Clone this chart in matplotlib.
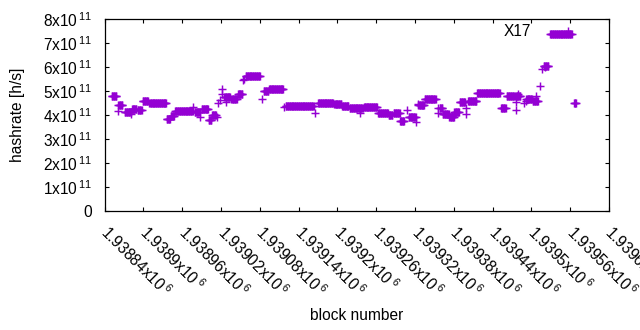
import numpy as np
import matplotlib
matplotlib.use('Agg')
import matplotlib.pyplot as plt
from matplotlib.transforms import ScaledTranslation

plt.rcParams['font.family'] = ['Liberation Sans', 'DejaVu Sans']
plt.rcParams['mathtext.fontset'] = 'custom'
plt.rcParams['mathtext.rm'] = 'Liberation Sans'
plt.rcParams['mathtext.it'] = 'Liberation Sans:italic'
plt.rcParams['mathtext.bf'] = 'Liberation Sans:bold'

# ---- data (block offsets relative to first_block, hashrate in units of 1e11 h/s)
first_block = 1938840
run_start = [11, 21, 31, 42, 51, 59, 69, 96, 102, 109, 139, 150, 161, 166, 185, 196,
             206, 218, 246, 254, 280, 330, 355, 367, 379, 401, 423, 439, 447, 457,
             470, 485, 495, 518, 523, 533, 541, 549, 562, 576, 613, 622, 635, 652,
             662, 679, 689, 726]
run_end = [18, 27, 40, 49, 57, 67, 95, 101, 107, 136, 147, 160, 165, 172, 194, 204,
           213, 240, 253, 276, 323, 353, 366, 377, 399, 421, 438, 445, 456, 463,
           481, 494, 512, 522, 532, 540, 548, 557, 575, 611, 620, 633, 643, 661,
           670, 686, 722, 729]
run_value = [4.82, 4.42, 4.12, 4.25, 4.20, 4.58, 4.49, 3.86, 3.96, 4.19, 4.12, 4.26,
             3.79, 4.01, 4.76, 4.68, 4.89, 5.62, 5.00, 5.11, 4.40, 4.49, 4.45, 4.39,
             4.31, 4.33, 4.11, 4.00, 4.11, 3.75, 3.93, 4.42, 4.69, 4.29, 4.03, 3.93,
             4.12, 4.53, 4.61, 4.94, 4.29, 4.82, 4.78, 4.69, 4.60, 6.04, 7.40, 4.49]
single_block = [21, 40, 137, 148, 174, 176, 179, 182, 182, 187, 214, 216, 243, 278,
                326, 395, 467, 482, 485, 516, 516, 537, 559, 559, 636, 636, 640, 649,
                652, 667, 674, 677, 681]
single_value = [4.18, 4.05, 4.33, 3.93, 3.93, 4.49, 4.62, 5.08, 4.90, 4.56, 5.46, 5.50,
                4.67, 4.35, 4.07, 4.07, 4.21, 3.72, 4.45, 4.07, 4.30, 3.95, 4.03, 4.31,
                4.53, 4.21, 4.87, 4.49, 4.60, 4.80, 5.22, 5.94, 6.00]
series_name = 'X17'

x_ticks = [1938840, 1938900, 1938960, 1939020, 1939080, 1939140, 1939200,
           1939260, 1939320, 1939380, 1939440, 1939500, 1939560, 1939620]
x_tick_labels = ['1.93884', '1.9389', '1.93896', '1.93902', '1.93908', '1.93914',
                 '1.9392', '1.93926', '1.93932', '1.93938', '1.93944', '1.9395',
                 '1.93956', '1.93962']
y_ticks = [0, 1e11, 2e11, 3e11, 4e11, 5e11, 6e11, 7e11, 8e11]
y_tick_labels = ['0', '1', '2', '3', '4', '5', '6', '7', '8']

# ---- build point list
blocks = []
values = []
for s, e, v in zip(run_start, run_end, run_value):
    b = np.arange(s, e + 1)
    blocks.append(b)
    values.append(np.full(b.size, v))
blocks.append(np.array(single_block))
values.append(np.array(single_value))
blocks = np.concatenate(blocks) + first_block
values = np.concatenate(values) * 1e11

color = '#9400d3'
fig = plt.figure(figsize=(6.4, 3.3), dpi=100)
ax = fig.add_axes([104.7 / 640, 119 / 330, 504.3 / 640, 191.7 / 330])

ax.plot(blocks, values, linestyle='none', marker='+', ms=6.2, mew=1.05,
        color=color, label=series_name)

ax.set_xlim(x_ticks[0], x_ticks[-1])
ax.set_ylim(y_ticks[0], y_ticks[-1])

fs = 11.2
ax.tick_params(axis='both', direction='in', length=3, width=0.8,
               top=True, right=True, colors='black')
ax.tick_params(axis='y', pad=9)
ax.tick_params(axis='x', pad=6)
ax.set_yticks(y_ticks)
ax.set_yticklabels([l if l == '0' else r'$\mathrm{%sx10}^{\,\mathrm{11}}$' % l
                    for l in y_tick_labels], fontsize=fs)
ax.set_xticks(x_ticks)
ax.set_xticklabels([r'$\mathrm{%sx10}^{\;\mathrm{6}}$' % l for l in x_tick_labels],
                   fontsize=fs, rotation=-45, ha='left', va='top',
                   rotation_mode='anchor')
shift = ScaledTranslation(6 / 100, -3 / 100, fig.dpi_scale_trans)
for lbl in ax.get_xticklabels():
    lbl.set_transform(lbl.get_transform() + shift)
for sp in ax.spines.values():
    sp.set_linewidth(0.9)
    sp.set_color('black')

ax.set_xlabel('block number', fontsize=fs)
ax.set_ylabel('hashrate [h/s]', fontsize=fs)
ax.xaxis.set_label_coords(0.5, -0.545)
ax.yaxis.set_label_coords(-0.172, 0.5)
ax.xaxis.label.set_va('center')
ax.yaxis.label.set_va('center')

ax.legend(loc='center right', bbox_to_anchor=(0.9435, 0.9364), frameon=False,
          markerfirst=False, numpoints=1, handlelength=1.6, handletextpad=1.55,
          borderaxespad=0, borderpad=0, fontsize=fs)

fig.savefig('out.png', dpi=100)
